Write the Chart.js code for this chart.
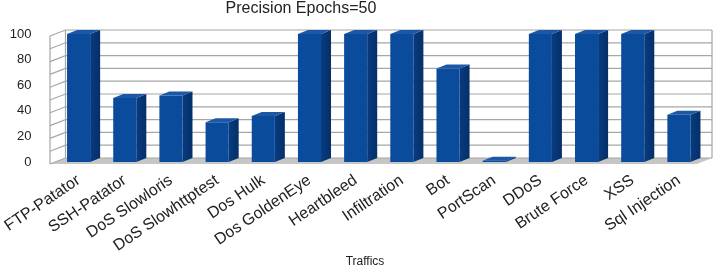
<!DOCTYPE html>
<html>
<head>
<meta charset="utf-8">
<script src="https://cdn.jsdelivr.net/npm/chart.js@4.4.1/dist/chart.umd.min.js"></script>
<style>
  html, body { margin: 0; padding: 0; background: #ffffff; }
  #wrap { width: 720px; height: 267px; }
</style>
</head>
<body>
<div id="wrap"><canvas id="c" width="720" height="267"></canvas></div>
<script>
const chartTitle = "Precision Epochs=50";
const xAxisTitle = "Traffics";
const categories = ["FTP-Patator", "SSH-Patator", "DoS Slowloris", "DoS Slowhttptest", "Dos Hulk", "Dos GoldenEye", "Heartbleed", "Infiltration", "Bot", "PortScan", "DDoS", "Brute Force", "XSS", "Sql Injection"];
const precision = [100, 50, 52, 31, 36, 100, 100, 100, 73, 1, 100, 100, 100, 37];
const yTickLabels = [0, 20, 40, 60, 80, 100];

const FONT = '"Liberation Sans", Arial, sans-serif';
const DEPTH_X = 10, DEPTH_Y = -4;      // bar depth
const FRONT = { x: -5, y: 2 };          // front edge of floor / left wall
const BACK = { x: 10, y: -4 };          // back wall

const threeD = {
  id: 'threeD',
  beforeDatasetsDraw(chart) {
    const { ctx, chartArea: a, scales } = chart;
    const y = scales.y;
    const y0 = y.getPixelForValue(0);
    const y100 = y.getPixelForValue(100);
    const lx = a.left + FRONT.x - 0.5, bx = a.left + BACK.x, rx = a.right + BACK.x;
    ctx.save();
    ctx.fillStyle = '#ffffff';
    ctx.fillRect(bx, y100 + BACK.y, rx - bx, y0 - y100);
    ctx.fillStyle = '#c6c6c6';
    ctx.beginPath();
    ctx.moveTo(lx, y0 + FRONT.y);
    ctx.lineTo(bx, y0 + BACK.y);
    ctx.lineTo(rx, y0 + BACK.y);
    ctx.lineTo(a.right + FRONT.x, y0 + FRONT.y);
    ctx.closePath();
    ctx.fill();
    ctx.strokeStyle = '#a6a6a6';
    ctx.lineWidth = 1.2;
    for (let v = 0; v <= 100; v += 10) {
      const yy = y.getPixelForValue(v);
      ctx.beginPath();
      ctx.moveTo(lx, yy + FRONT.y);
      ctx.lineTo(bx, yy + BACK.y);
      ctx.lineTo(rx, yy + BACK.y);
      ctx.stroke();
    }
    ctx.beginPath();
    ctx.moveTo(lx, y100 + FRONT.y); ctx.lineTo(lx, y0 + FRONT.y);
    ctx.moveTo(bx, y100 + BACK.y); ctx.lineTo(bx, y0 + BACK.y);
    ctx.moveTo(rx, y100 + BACK.y); ctx.lineTo(rx, y0 + BACK.y);
    ctx.stroke();
    ctx.restore();
  },
  afterDatasetsDraw(chart) {
    const { ctx } = chart;
    const meta = chart.getDatasetMeta(0);
    ctx.save();
    meta.data.forEach((bar) => {
      const p = bar.getProps(['x', 'y', 'base', 'width'], true);
      const xl = p.x - p.width / 2, xr = p.x + p.width / 2;
      const yt = Math.min(p.y, p.base - 1), yb = p.base;
      const g = ctx.createLinearGradient(xr, 0, xr + DEPTH_X, 0);
      g.addColorStop(0, '#083c80');
      g.addColorStop(1, '#052f68');
      ctx.fillStyle = g;
      ctx.beginPath();
      ctx.moveTo(xr, yt);
      ctx.lineTo(xr + DEPTH_X, yt + DEPTH_Y);
      ctx.lineTo(xr + DEPTH_X, yb + DEPTH_Y);
      ctx.lineTo(xr, yb);
      ctx.closePath();
      ctx.fill();
      ctx.fillStyle = '#1d58a6';
      ctx.beginPath();
      ctx.moveTo(xl, yt);
      ctx.lineTo(xl + DEPTH_X, yt + DEPTH_Y);
      ctx.lineTo(xr + DEPTH_X, yt + DEPTH_Y);
      ctx.lineTo(xr, yt);
      ctx.closePath();
      ctx.fill();
    });
    ctx.restore();
  },
  afterDraw(chart) {
    const { ctx } = chart;
    ctx.save();
    ctx.fillStyle = '#222222';
    ctx.textAlign = 'center';
    ctx.textBaseline = 'alphabetic';
    ctx.font = '16px ' + FONT;
    ctx.fillText(chartTitle, 301, 13);
    ctx.font = '12px ' + FONT;
    ctx.fillText(xAxisTitle, 365, 265);
    ctx.restore();
  }
};

const ctx = document.getElementById('c').getContext('2d');
new Chart(ctx, {
  type: 'bar',
  data: {
    labels: categories,
    datasets: [{
      label: 'Precision',
      data: precision,
      backgroundColor: (c) => {
        const a = c.chart.chartArea;
        const el = c.element;
        if (!a || !el) return '#0b4b9c';
        const p = el.getProps(['x', 'width'], true);
        if (!isFinite(p.x)) return '#0b4b9c';
        const g = c.chart.ctx.createLinearGradient(p.x - p.width / 2, 0, p.x + p.width / 2, 0);
        g.addColorStop(0, '#09428c');
        g.addColorStop(0.45, '#0d50a3');
        g.addColorStop(1, '#0a4694');
        return g;
      },
      borderWidth: 0,
      barPercentage: 0.5,
      categoryPercentage: 1.0
    }]
  },
  options: {
    responsive: false,
    animation: false,
    layout: { padding: { top: 34, left: 0, right: 18, bottom: 0 } },
    plugins: { legend: { display: false }, title: { display: false }, tooltip: { enabled: false } },
    scales: {
      y: {
        min: 0, max: 100,
        afterFit: (s) => { s.width = 55.5; s.paddingTop = 0; s.paddingBottom = 0; },
        afterBuildTicks: (s) => { s.ticks = yTickLabels.map(v => ({ value: v })); },
        ticks: { color: '#222', font: { family: FONT, size: 13 }, padding: 24 },
        grid: { display: false, drawTicks: false },
        border: { display: false }
      },
      x: {
        afterFit: (s) => { s.height = 105; s.paddingLeft = 0; s.paddingRight = 0; },
        ticks: { color: '#222', font: { family: FONT, size: 16 }, minRotation: 34, maxRotation: 34, padding: 9, autoSkip: false },
        grid: { display: false, drawTicks: false },
        border: { display: false }
      }
    }
  },
  plugins: [threeD]
});
</script>
</body>
</html>
